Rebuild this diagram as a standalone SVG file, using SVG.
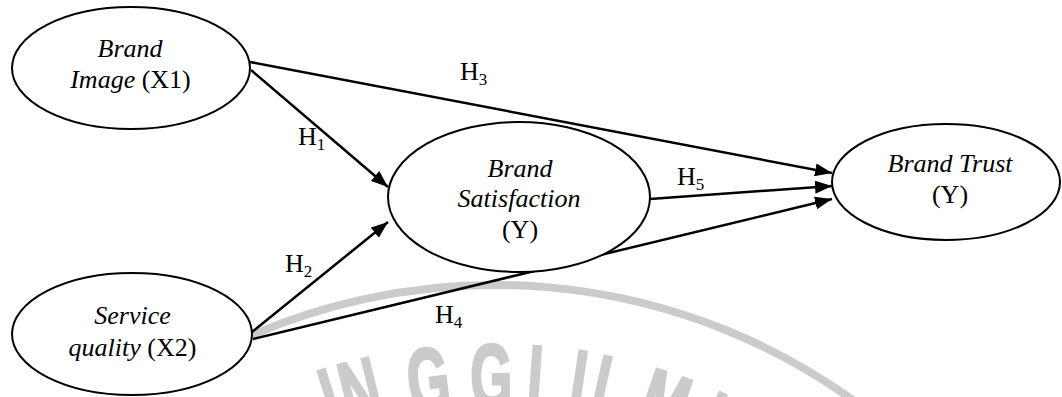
<svg xmlns="http://www.w3.org/2000/svg" width="1062" height="397" viewBox="0 0 1062 397">
<style>
.node{fill:#fff;stroke:#000;stroke-width:2}
.lbl{font-family:"Liberation Serif","Times New Roman",serif;font-size:26px;fill:#000;text-anchor:middle}
.it{font-style:italic}
.h{font-family:"Liberation Serif","Times New Roman",serif;font-size:26px;fill:#000}
.sub{font-size:17px}
.edge{stroke:#000;stroke-width:2.5;fill:none;marker-end:url(#arr)}
.wm{fill:#cbcbcb;stroke:#cbcbcb;stroke-width:3;font-family:"Liberation Sans",Arial,sans-serif;font-weight:bold;font-size:90px;text-anchor:middle}
</style>
<defs>
<marker id="arr" markerUnits="userSpaceOnUse" markerWidth="18" markerHeight="13" refX="17" refY="6.5" orient="auto">
<path d="M0,0 L17,6.5 L0,13 z" fill="#000"/>
</marker>
</defs>
<rect width="1062" height="397" fill="#fff"/>
<g id="watermark">
<path d="M200,360.5 A614,614 0 0 1 880,420.7" fill="none" stroke="#cbcbcb" stroke-width="8"/>
<text class="wm" transform="translate(340,429.6) rotate(-17.5) scale(0.6,1)">I</text>
<text class="wm" transform="translate(368,421.7) rotate(-14.05) scale(0.6,1)">N</text>
<text class="wm" transform="translate(432,410.6) rotate(-6.92) scale(0.6,1)">G</text>
<text class="wm" transform="translate(491.5,407) rotate(-0.41) scale(0.6,1)">G</text>
<text class="wm" transform="translate(533,408.2) rotate(4.02) scale(0.6,1)">I</text>
<text class="wm" transform="translate(574,412.5) rotate(8.59) scale(0.6,1)">I</text>
<text class="wm" transform="translate(603,419) rotate(12.68) scale(0.6,1)">L</text>
<text class="wm" transform="translate(654.3,433.5) rotate(18.89) scale(0.6,1)">M</text>
<text class="wm" transform="translate(707.4,455.2) rotate(25.57) scale(0.6,1)">U</text>
</g>
<g id="connectors">
<line class="edge" x1="250" y1="62" x2="832" y2="173"/>
<line class="edge" x1="251" y1="70" x2="388" y2="187"/>
<line class="edge" x1="252" y1="332" x2="388" y2="222"/>
<line class="edge" x1="253" y1="339" x2="832" y2="199"/>
<line class="edge" x1="650" y1="199" x2="832" y2="186"/>
<text class="h" x="460" y="80">H<tspan class="sub" dy="5">3</tspan></text>
<text class="h" x="298" y="145">H<tspan class="sub" dy="5">1</tspan></text>
<text class="h" x="285" y="272">H<tspan class="sub" dy="5">2</tspan></text>
<text class="h" x="435" y="323">H<tspan class="sub" dy="5">4</tspan></text>
<text class="h" x="677" y="185">H<tspan class="sub" dy="5">5</tspan></text>
</g>
<g id="brand-image">
<ellipse class="node" cx="131" cy="68" rx="119" ry="61"/>
<text class="lbl it" x="130" y="57">Brand</text>
<text class="lbl" x="130.5" y="88"><tspan class="it">Image</tspan> (X1)</text>
</g>
<g id="service-quality">
<ellipse class="node" cx="132" cy="334" rx="120" ry="61"/>
<text class="lbl it" x="132.5" y="324">Service</text>
<text class="lbl" x="132.5" y="356"><tspan class="it">quality</tspan> (X2)</text>
</g>
<g id="brand-satisfaction">
<ellipse class="node" cx="519" cy="197" rx="131" ry="75"/>
<text class="lbl it" x="520" y="177">Brand</text>
<text class="lbl it" x="519" y="207">Satisfaction</text>
<text class="lbl" x="520" y="238">(Y)</text>
</g>
<g id="brand-trust">
<ellipse class="node" cx="946" cy="182" rx="114" ry="58"/>
<text class="lbl it" x="950" y="172">Brand Trust</text>
<text class="lbl" x="950" y="203">(Y)</text>
</g>
</svg>
